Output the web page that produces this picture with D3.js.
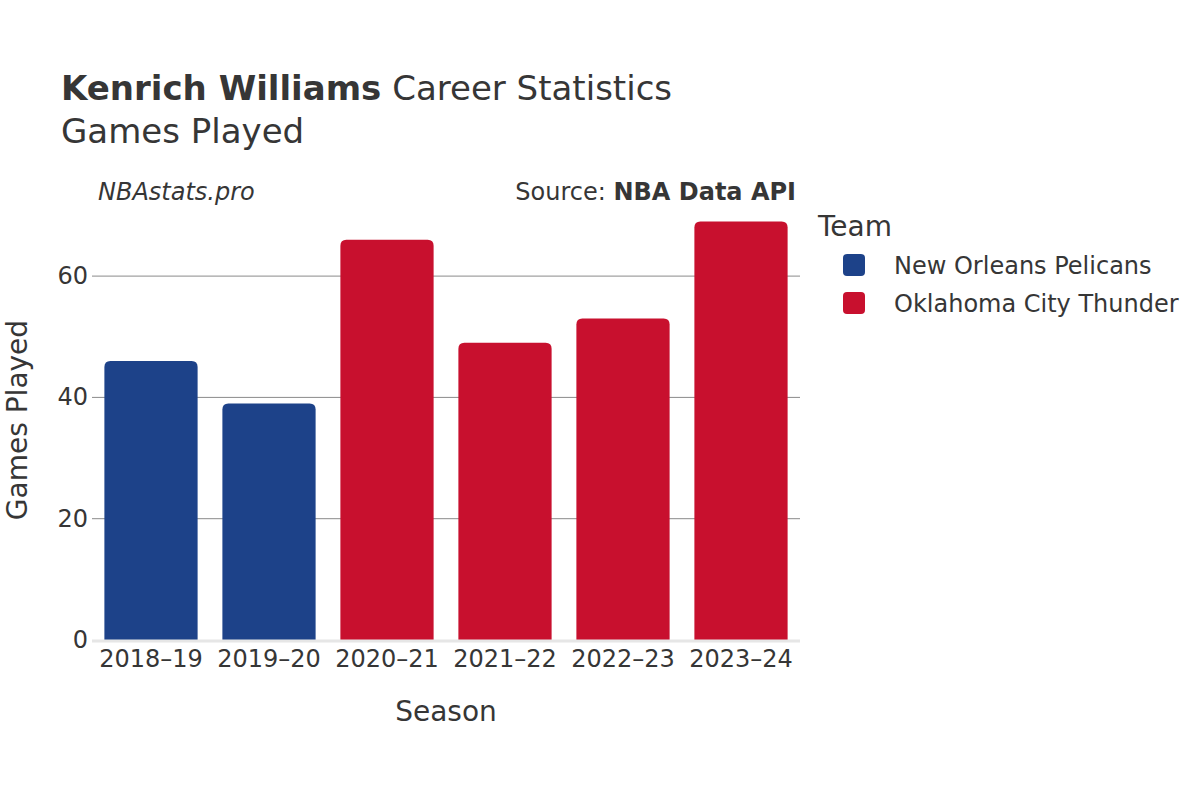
<!DOCTYPE html>
<html>
<head>
<meta charset="utf-8">
<script src="https://cdn.jsdelivr.net/npm/d3@7"></script>
<style>
  body { margin: 0; background: #fff; }
  text { font-family: "DejaVu Sans", sans-serif; fill: #363636; }
</style>
</head>
<body>
<div id="chart"></div>
<script>
var seasons = ["2018–19", "2019–20", "2020–21", "2021–22", "2022–23", "2023–24"];
var gamesPlayed = [46, 39, 66, 49, 53, 69];
var teams = ["New Orleans Pelicans", "New Orleans Pelicans", "Oklahoma City Thunder",
             "Oklahoma City Thunder", "Oklahoma City Thunder", "Oklahoma City Thunder"];
var legendTeams = ["New Orleans Pelicans", "Oklahoma City Thunder"];
var teamColors = ["#1d4289", "#c8102e"];
var yTicks = [0, 20, 40, 60];

var w = 1200, h = 800;
var plotLeft = 92, plotRight = 800, plotTop = 210, plotBottom = 640;

var svg = d3.select("#chart").append("svg")
    .attr("width", w)
    .attr("height", h);

var x = d3.scaleBand().domain(seasons).range([plotLeft, plotRight]).paddingInner(0.21).paddingOuter(0.105);
var y = d3.scaleLinear().domain([0, 70.9]).range([plotBottom, plotTop]);
var color = d3.scaleOrdinal().domain(legendTeams).range(teamColors);

// gridlines
svg.selectAll("line.grid")
    .data(yTicks.slice(1))
    .enter()
    .append("line")
    .attr("x1", plotLeft).attr("x2", plotRight)
    .attr("y1", function(d){ return y(d); })
    .attr("y2", function(d){ return y(d); })
    .attr("stroke", "#8a8a8a")
    .attr("stroke-width", 1);

// bars with rounded top corners
function barPath(x0, y0, bw, bh, r) {
    r = Math.min(r, bh, bw / 2);
    return "M" + x0 + "," + (y0 + bh) +
        "V" + (y0 + r) +
        "Q" + x0 + "," + y0 + " " + (x0 + r) + "," + y0 +
        "H" + (x0 + bw - r) +
        "Q" + (x0 + bw) + "," + y0 + " " + (x0 + bw) + "," + (y0 + r) +
        "V" + (y0 + bh) + "Z";
}

svg.selectAll("path.bar")
    .data(gamesPlayed)
    .enter()
    .append("path")
    .attr("d", function(d, i){
        return barPath(x(seasons[i]), y(d), x.bandwidth(), y(0) - y(d), 6);
    })
    .attr("fill", function(d, i){ return color(teams[i]); });

// zero line
svg.append("line")
    .attr("x1", plotLeft).attr("x2", plotRight)
    .attr("y1", y(0) + 1).attr("y2", y(0) + 1)
    .attr("stroke", "#e6e6e6")
    .attr("stroke-width", 3);

// y tick labels
svg.selectAll("text.ytick")
    .data(yTicks)
    .enter()
    .append("text")
    .attr("x", plotLeft - 4)
    .attr("y", function(d){ return y(d) + 8; })
    .attr("text-anchor", "end")
    .style("font-size", "24px")
    .text(function(d){ return d; });

// x tick labels
svg.selectAll("text.xtick")
    .data(seasons)
    .enter()
    .append("text")
    .attr("x", function(d){ return x(d) + x.bandwidth() / 2; })
    .attr("y", 667)
    .attr("text-anchor", "middle")
    .style("font-size", "24px")
    .text(function(d){ return d; });

// axis titles
svg.append("text")
    .attr("x", (plotLeft + plotRight) / 2)
    .attr("y", 721)
    .attr("text-anchor", "middle")
    .style("font-size", "28px")
    .text("Season");

svg.append("text")
    .attr("transform", "translate(27," + 420 + ") rotate(-90)")
    .attr("text-anchor", "middle")
    .style("font-size", "28px")
    .text("Games Played");

// titles
var title = svg.append("text")
    .attr("x", 61)
    .attr("y", 100)
    .style("font-size", "34px");
title.append("tspan").style("font-weight", "bold").text("Kenrich Williams");
title.append("tspan").text(" Career Statistics");

svg.append("text")
    .attr("x", 61)
    .attr("y", 143)
    .style("font-size", "34px")
    .text("Games Played");

svg.append("text")
    .attr("x", 98)
    .attr("y", 200)
    .style("font-size", "24px")
    .style("font-style", "italic")
    .text("NBAstats.pro");

var source = svg.append("text")
    .attr("x", 796)
    .attr("y", 200)
    .attr("text-anchor", "end")
    .style("font-size", "24px");
source.append("tspan").text("Source: ");
source.append("tspan").style("font-weight", "bold").text("NBA Data API");

// legend
svg.append("text")
    .attr("x", 818)
    .attr("y", 236)
    .style("font-size", "28px")
    .text("Team");

var legend = svg.selectAll("g.legend")
    .data(legendTeams)
    .enter()
    .append("g")
    .attr("transform", function(d, i){ return "translate(843," + (254 + i * 38) + ")"; });

legend.append("rect")
    .attr("width", 22).attr("height", 22)
    .attr("rx", 4)
    .attr("fill", function(d){ return color(d); });

legend.append("text")
    .attr("x", 51)
    .attr("y", 20)
    .style("font-size", "24px")
    .text(function(d){ return d; });
</script>
</body>
</html>
